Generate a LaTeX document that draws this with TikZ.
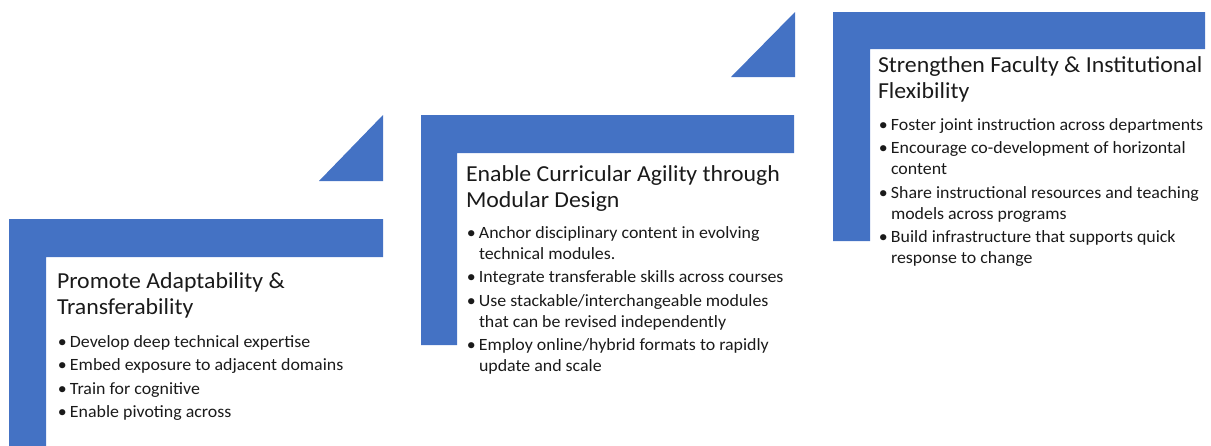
\documentclass[tikz,border=0pt]{standalone}
\usepackage{fontspec}
\setmainfont{Carlito}
\newfontfamily\headfont[FakeStretch=1.04]{Carlito}
\newfontfamily\listfont[FakeStretch=1.04]{Carlito}
\definecolor{stepblue}{HTML}{4472C4}
\definecolor{inktext}{HTML}{1A1A1A}
% forced line break that keeps the hanging indent
\newcommand\nl{\hfil\break}
% heading block: first baseline is the node's base
\newcommand\steptitle[1]{\vtop{\hsize=360pt\headfont\fontsize{22.9}{26}\selectfont\parindent=0pt\noindent#1}}
% one bullet point with hanging indent
\newcommand\bpoint[1]{\par\hangindent=13pt\hangafter=1\noindent\makebox[13pt][l]{\hspace{0.8pt}\textbullet}#1\par}
% bullet list block
\newcommand\steplist[1]{\vtop{\hsize=360pt\listfont\fontsize{17.2}{21}\selectfont\parindent=0pt\parskip=2.5pt#1}}
\tikzset{
  stepband/.style={fill=stepblue, draw=none},
  steptext/.style={anchor=base west, inner sep=0pt, outer sep=0pt, text=inktext},
}
\begin{document}
\begin{tikzpicture}[x=1pt, y=-1pt]
\useasboundingbox (0,0) rectangle (1211,445);

% step 1
\fill[stepband] (9,219) -- (383,219) -- (383,257) -- (46,257) -- (46,449) -- (9,449) -- cycle;
\fill[stepband] (319,181) -- (383,181) -- (383,115) -- cycle;
% step 2
\fill[stepband] (421,115) -- (794,115) -- (794,153) -- (457,153) -- (457,345) -- (421,345) -- cycle;
\fill[stepband] (731,77) -- (795,77) -- (795,12) -- cycle;
% step 3
\fill[stepband] (833,12) -- (1205,12) -- (1205,49) -- (870,49) -- (870,241) -- (833,241) -- cycle;

% step 1 text
\node[steptext] (t1) at (57,288) {\steptitle{Promote Adaptability \&\nl Transferability}};
\node[steptext] (l1) at (57,347) {\steplist{%
  \bpoint{Develop deep technical expertise}
  \bpoint{Embed exposure to adjacent domains}
  \bpoint{Train for cognitive}
  \bpoint{Enable pivoting across}}};

% step 2 text
\node[steptext] (t2) at (466,181) {\steptitle{Enable Curricular Agility through\nl Modular Design}};
\node[steptext] (l2) at (466,238) {\steplist{%
  \bpoint{Anchor disciplinary content in evolving\nl technical modules.}
  \bpoint{Integrate transferable skills across courses}
  \bpoint{Use stackable/interchangeable modules\nl that can be revised independently}
  \bpoint{Employ online/hybrid formats to rapidly\nl update and scale}}};

% step 3 text
\node[steptext] (t3) at (878,72) {\steptitle{Strengthen Faculty \& Institutional\nl Flexibility}};
\node[steptext] (l3) at (878,130) {\steplist{%
  \bpoint{Foster joint instruction across departments}
  \bpoint{Encourage co-development of horizontal\nl content}
  \bpoint{Share instructional resources and teaching\nl models across programs}
  \bpoint{Build infrastructure that supports quick\nl response to change}}};
\end{tikzpicture}
\end{document}
